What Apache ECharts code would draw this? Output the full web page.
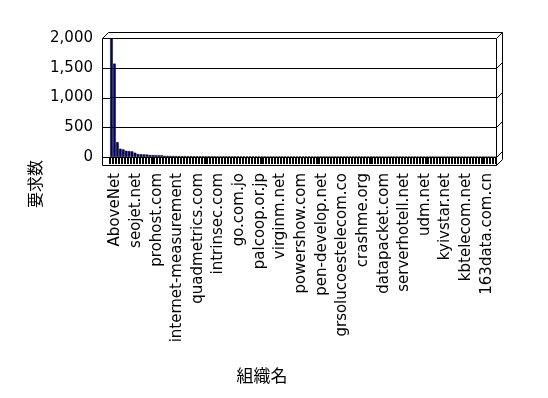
<!DOCTYPE html>
<html>
<head>
<meta charset="utf-8">
<script src="https://cdn.jsdelivr.net/npm/echarts@6/dist/echarts.min.js"></script>
<style>
  html, body { margin: 0; background: #fff; }
  #chart { width: 548px; height: 398px; }
</style>
</head>
<body>
<div id="chart"></div>
<script>
// 表示される組織名（7件ごと）
const labelNames = [
  'AboveNet', 'seojet.net', 'prohost.com', 'internet-measurement',
  'quadmetrics.com', 'intrinsec.com', 'go.com.jo', 'palcoop.or.jp',
  'virginm.net', 'powershow.com', 'pen-develop.net', 'grsolucoestelecom.co',
  'crashme.org', 'datapacket.com', 'serverhotell.net', 'udm.net',
  'kyivstar.net', 'kbtelecom.net', '163data.com.cn'
]
const labelStep = 7

// 要求数（組織ごと）
const requestCounts = [
  1990, 1570, 250, 140, 128, 105, 100, 95, 72, 50,
  46, 44, 42, 35, 33, 32, 31, 30, 20, 19,
  18, 17, 16, 16, 15, 15, 14, 14, 13, 13,
  12, 12, 12, 11, 11, 11, 10, 10, 10, 10,
  10, 10, 10, 10, 9, 9, 9, 9, 9, 9,
  9, 9, 8, 8, 8, 8, 8, 8, 8, 8,
  8, 8, 7, 7, 7, 7, 7, 7, 7, 7,
  7, 7, 6, 6, 6, 6, 6, 6, 6, 6,
  6, 6, 5, 5, 5, 5, 5, 5, 5, 5,
  5, 5, 4, 4, 4, 4, 4, 4, 4, 4,
  4, 4, 4, 4, 3, 3, 3, 3, 3, 3,
  3, 3, 3, 3, 3, 3, 2, 2, 2, 2,
  2, 2, 2, 2, 2, 2, 2, 2, 2, 2,
  1
]

const yTicks = [0, 500, 1000, 1500, 2000]

const categories = requestCounts.map((v, i) =>
  i % labelStep === 0 ? labelNames[i / labelStep] : '')

const chartDom = document.getElementById('chart')
const chart = echarts.init(chartDom)

const gridLeft = 110
const gridRight = 496
const labelShift = 4 // ラベルは床の手前側に少しずれる
const latinFont = 'DejaVu Sans'
const cjkFont = 'Noto Sans CJK JP'

const option = {
  animation: false,
  grid: [
    { left: gridLeft, right: 548 - gridRight, top: 38, bottom: 241 },
    { left: gridLeft + labelShift, right: 548 - gridRight - labelShift, top: 38, bottom: 241 }
  ],
  xAxis: [
    {
      type: 'category',
      gridIndex: 0,
      data: categories,
      axisLine: { show: true, lineStyle: { color: '#000', width: 1 } },
      axisTick: {
        show: true,
        interval: 0,
        length: 7,
        lineStyle: { color: '#000', width: 2 }
      },
      axisLabel: { show: false }
    },
    {
      type: 'category',
      gridIndex: 1,
      data: categories,
      axisLine: { show: false },
      axisTick: { show: false },
      axisLabel: {
        interval: labelStep - 1,
        rotate: 90,
        margin: 16,
        color: '#000',
        fontFamily: latinFont,
        fontSize: 15
      }
    }
  ],
  yAxis: [
    {
      type: 'value',
      gridIndex: 0,
      min: yTicks[0],
      max: yTicks[yTicks.length - 1],
      interval: 500,
      axisLine: { show: false },
      axisTick: { show: false },
      axisLabel: {
        margin: 17,
        color: '#000',
        fontFamily: latinFont,
        fontSize: 15,
        formatter: v => v.toLocaleString('en-US')
      },
      splitLine: { show: true, lineStyle: { color: '#000', width: 1 } }
    },
    {
      type: 'value',
      gridIndex: 1,
      show: false,
      splitLine: { show: false }
    }
  ],
  series: [
    {
      name: '要求数',
      type: 'bar',
      xAxisIndex: 0,
      yAxisIndex: 0,
      data: requestCounts,
      barCategoryGap: '10%',
      itemStyle: {
        color: '#000080',
        borderColor: '#000',
        borderWidth: 0.5
      }
    }
  ]
}

chart.setOption(option)

// 3D風の枠線（Excelの壁・床）
const drawFrame = () => {
  const yOf = v => Math.round(chart.convertToPixel({ yAxisIndex: 0 }, v)) + 0.5
  const depth = 6
  const frontLeft = gridLeft - 8 + 0.5
  const right = gridRight + 0.5
  const topY = yOf(yTicks[yTicks.length - 1])
  const floorY = yOf(0) + 8
  const stroke = { stroke: '#000', lineWidth: 1, fill: null }

  const elements = [
    {
      type: 'polyline',
      shape: {
        points: [
          [frontLeft, floorY], [frontLeft, topY],
          [frontLeft + depth, topY - depth], [right + depth, topY - depth],
          [right + depth, floorY - depth], [right, floorY],
          [frontLeft, floorY]
        ]
      },
      style: stroke,
      silent: true
    },
    {
      type: 'line',
      shape: { x1: right, y1: topY, x2: right, y2: floorY },
      style: stroke,
      silent: true
    }
  ]

  yTicks.forEach(v => {
    const y = yOf(v)
    elements.push({
      type: 'line',
      shape: { x1: frontLeft, y1: y, x2: gridLeft, y2: y },
      style: stroke,
      silent: true
    })
    elements.push({
      type: 'line',
      shape: { x1: right, y1: y, x2: right + depth, y2: y - depth },
      style: stroke,
      silent: true
    })
  })

  elements.push({
    type: 'text',
    x: 35,
    y: 184,
    rotation: Math.PI / 2,
    style: {
      text: '要求数',
      fill: '#000',
      font: '16px "' + cjkFont + '"',
      align: 'center',
      verticalAlign: 'middle'
    },
    silent: true
  })
  elements.push({
    type: 'text',
    x: 262,
    y: 376,
    style: {
      text: '組織名',
      fill: '#000',
      font: '17px "' + cjkFont + '"',
      align: 'center',
      verticalAlign: 'middle'
    },
    silent: true
  })

  chart.setOption({ graphic: { elements } })
}

drawFrame()

window.addEventListener('resize', () => {
  chart.resize()
  drawFrame()
})
</script>
</body>
</html>
